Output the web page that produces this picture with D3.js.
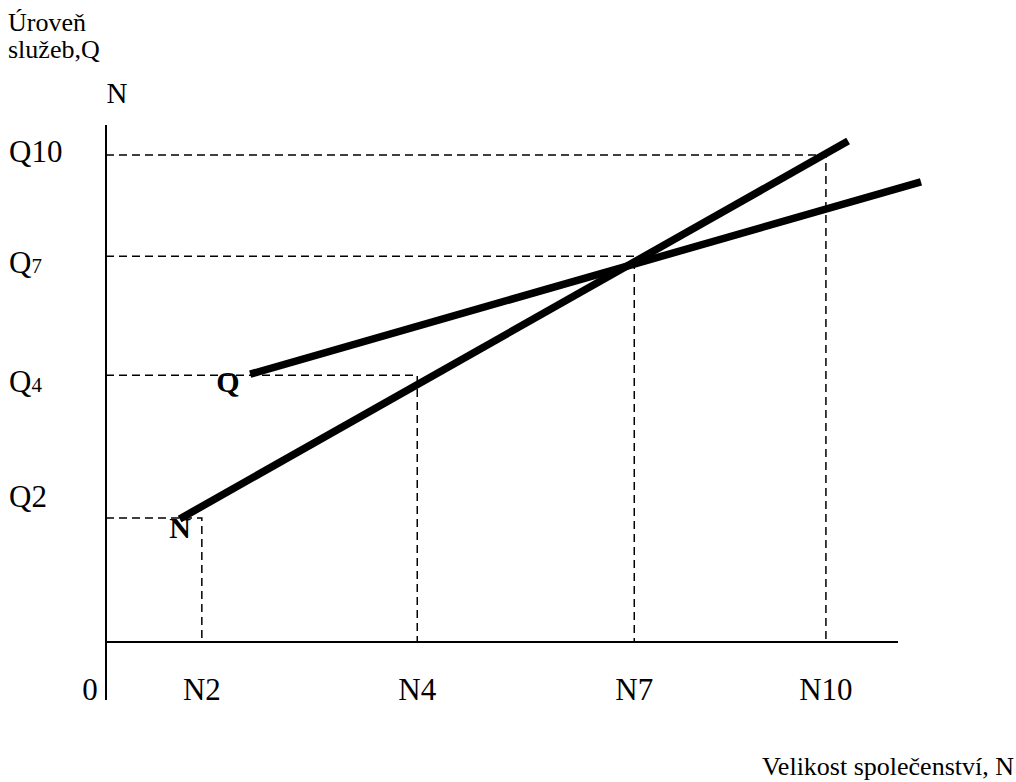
<!DOCTYPE html>
<html>
<head>
<meta charset="utf-8">
<script src="https://cdn.jsdelivr.net/npm/d3@7"></script>
<style>
  html, body { margin: 0; padding: 0; background: #fff; }
  svg { display: block; }
  text { font-family: "Liberation Serif", "Times New Roman", serif; fill: #000; }
</style>
</head>
<body>
<svg id="chart" width="1016" height="782"></svg>
<script>
// ---- data (abstract units) ----
const xTickLabels = ["N2", "N4", "N7", "N10"];
const xTickValues = [12.1, 39.3, 66.7, 90.9];
const yTickLabels = ["Q10", "Q7", "Q4", "Q2"];
const yTickValues = [94.2, 74.6, 51.6, 24.0];
const nLine = [[9.3, 23.8], [93.7, 96.9]];
const qLine = [[18.2, 51.8], [102.9, 89.0]];
const xAxisExtent = [0, 100];
const yAxisExtent = [-11.2, 100];

// ---- layout ----
const svg = d3.select("#chart");
const x = d3.scaleLinear().domain([0, 100]).range([106, 898]);
const y = d3.scaleLinear().domain([0, 100]).range([642, 125]);
const yLabelDy = [7, 17, 17, -11];

// axes
svg.append("line")
  .attr("x1", x(0)).attr("x2", x(0))
  .attr("y1", y(yAxisExtent[1])).attr("y2", y(yAxisExtent[0]))
  .attr("stroke", "#000").attr("stroke-width", 2);
svg.append("line")
  .attr("x1", x(xAxisExtent[0])).attr("x2", x(xAxisExtent[1]))
  .attr("y1", y(0)).attr("y2", y(0))
  .attr("stroke", "#000").attr("stroke-width", 2);

// dashed guides
const guides = svg.append("g").attr("fill", "none").attr("stroke", "#000")
  .attr("stroke-width", 1.5).attr("stroke-dasharray", "8,5");
xTickValues.forEach((xv, i) => {
  const yv = yTickValues[yTickValues.length - 1 - i];
  guides.append("path")
    .attr("d", `M${x(0)},${y(yv)}H${x(xv)}V${y(0)}`);
});

// thick lines
const lineGen = d3.line().x(d => x(d[0])).y(d => y(d[1]));
[nLine, qLine].forEach(l => {
  svg.append("path").attr("d", lineGen(l))
    .attr("fill", "none").attr("stroke", "#000").attr("stroke-width", 7.5);
});

// y labels
yTickLabels.forEach((lab, i) => {
  const t = svg.append("text")
    .attr("x", 9).attr("y", y(yTickValues[i]) + yLabelDy[i])
    .attr("font-size", 31);
  if (lab === "Q7" || lab === "Q4") {
    t.append("tspan").text(lab[0]);
    t.append("tspan").attr("font-size", 21).text(lab.slice(1));
  } else {
    t.text(lab);
  }
});

// x labels
svg.append("text").attr("x", 90).attr("y", 700).attr("font-size", 31)
  .attr("text-anchor", "middle").text("0");
xTickLabels.forEach((lab, i) => {
  svg.append("text").attr("x", x(xTickValues[i])).attr("y", 700)
    .attr("font-size", 31).attr("text-anchor", "middle").text(lab);
});

// axis titles
svg.append("text").attr("x", 8).attr("y", 31).attr("font-size", 26).text("Úroveň");
svg.append("text").attr("x", 8).attr("y", 58).attr("font-size", 26).text("služeb,Q");
svg.append("text").attr("x", 117).attr("y", 103).attr("font-size", 29)
  .attr("text-anchor", "middle").text("N");
svg.append("text").attr("x", 1014).attr("y", 775).attr("font-size", 26)
  .attr("text-anchor", "end").text("Velikost společenství, N");

// line labels
svg.append("text").attr("x", 228).attr("y", 392).attr("font-size", 30)
  .attr("font-weight", "bold").attr("text-anchor", "middle").text("Q");
svg.append("text").attr("x", 180).attr("y", 538).attr("font-size", 30)
  .attr("font-weight", "bold").attr("text-anchor", "middle").text("N");
</script>
</body>
</html>
